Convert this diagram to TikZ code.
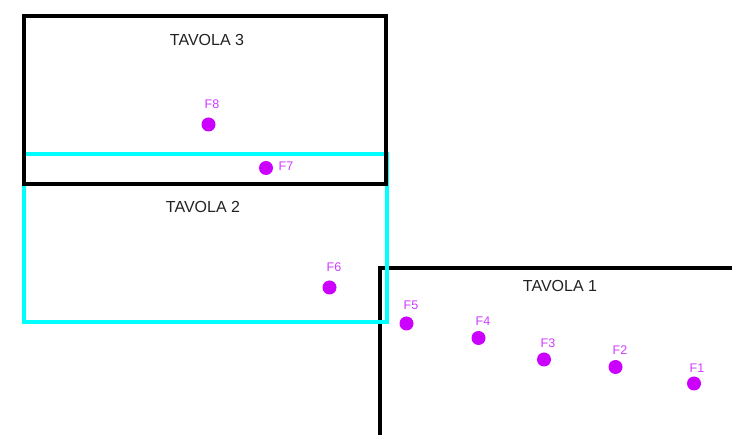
\documentclass[tikz,border=0pt]{standalone}
\usepackage{fontspec}
\setmainfont{Liberation Sans}
\definecolor{dotc}{RGB}{204,0,255}
\definecolor{labc}{RGB}{204,60,255}
\definecolor{tealc}{RGB}{0,255,255}
\definecolor{txtc}{RGB}{34,34,34}
\begin{document}
\begin{tikzpicture}[x=1pt,y=-1pt,
  blackbox/.style={draw=black,line width=3.5pt},
  cyanbox/.style={draw=tealc,line width=3.5pt},
  fdot/.style={circle,fill=dotc,inner sep=0pt,minimum size=14pt},
  flab/.style={text=labc,font=\fontsize{12.5}{13}\selectfont,inner sep=0pt},
  tlab/.style={text=txtc,font=\fontsize{16}{18}\selectfont,inner sep=0pt}]
\useasboundingbox (0,0) rectangle (732,435);
% Tavola 1
\draw[blackbox] (380,440) -- (380,268) -- (740,268);
% Tavola 2
\draw[cyanbox] (24,154) rectangle (387,322);
% Tavola 3
\draw[blackbox] (24,16) rectangle (386,184);
% titles
\node[tlab] (t3) at (207,40) {TAVOLA 3};
\node[tlab] (t2) at (203,207) {TAVOLA 2};
\node[tlab] (t1) at (560,286) {TAVOLA 1};
% points
\node[fdot] (f8) at (208.5,124.5) {};
\node[fdot] (f7) at (266,168) {};
\node[fdot] (f6) at (329.5,287.5) {};
\node[fdot] (f5) at (406.5,323.5) {};
\node[fdot] (f4) at (478.5,338) {};
\node[fdot] (f3) at (544,359.5) {};
\node[fdot] (f2) at (615.5,367) {};
\node[fdot] (f1) at (694,383.5) {};
\node[flab] (l8) at (212,104) {F8};
\node[flab] (l7) at (286,166) {F7};
\node[flab] (l6) at (334,267) {F6};
\node[flab] (l5) at (411,305) {F5};
\node[flab] (l4) at (483,321) {F4};
\node[flab] (l3) at (548,343) {F3};
\node[flab] (l2) at (620,350) {F2};
\node[flab] (l1) at (697,368) {F1};
\end{tikzpicture}
\end{document}
